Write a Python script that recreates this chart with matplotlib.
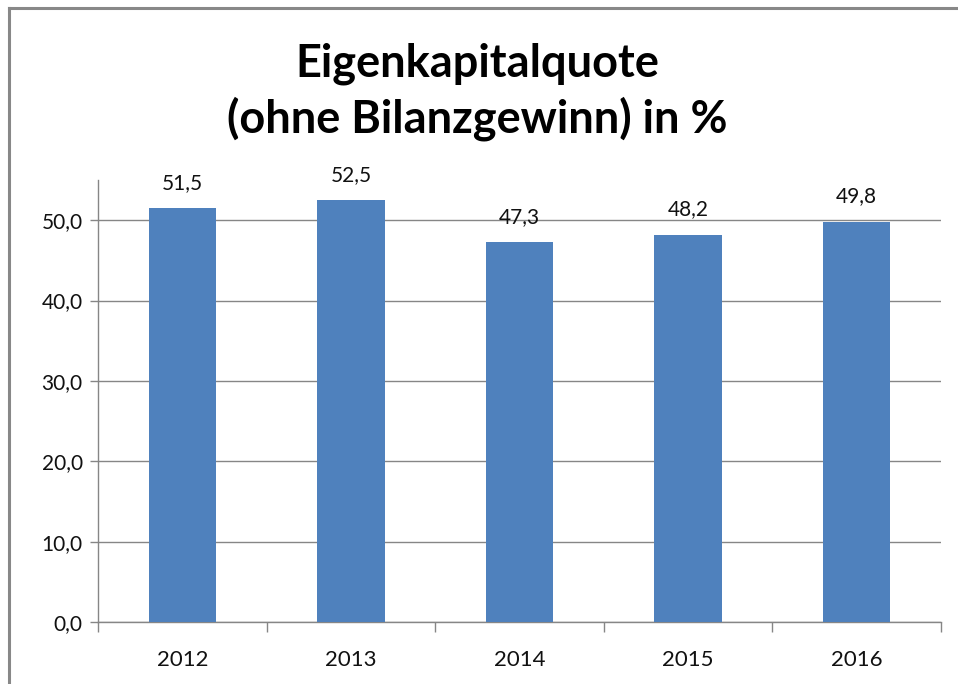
import matplotlib
matplotlib.use("Agg")
import matplotlib.pyplot as plt
from matplotlib.lines import Line2D
from matplotlib.ticker import FixedLocator

plt.rcParams['font.family'] = ['Lato', 'DejaVu Sans']

years = ["2012", "2013", "2014", "2015", "2016"]
values = [51.5, 52.5, 47.3, 48.2, 49.8]
title = "Eigenkapitalquote\n(ohne Bilanzgewinn) in %"

W, H = 958, 684
fig = plt.figure(figsize=(W / 100, H / 100), dpi=100)
ax = fig.add_axes([98 / W, 1 - 622 / H, (941 - 98) / W, (622 - 180) / H])

bar_color = "#4F81BD"
grid_color = "#868686"
x = list(range(len(years)))
ax.bar(x, values, width=0.4, color=bar_color, zorder=3)

ax.set_xlim(-0.5, len(years) - 0.5)
ax.set_ylim(0, 55)
yt = [0, 10, 20, 30, 40, 50]
ax.yaxis.set_major_locator(FixedLocator(yt))
ax.set_yticklabels([f"{v:.1f}".replace(".", ",") for v in yt])
ax.grid(axis="y", color=grid_color, linewidth=1.0, zorder=0)

# category ticks at boundaries
ax.xaxis.set_major_locator(FixedLocator([i - 0.5 for i in range(len(years) + 1)]))
ax.xaxis.set_major_formatter(plt.NullFormatter())
ax.xaxis.set_minor_locator(FixedLocator(x))
ax.set_xticklabels(years, minor=True)
ax.tick_params(axis="x", which="major", length=7, color=grid_color, width=1)
ax.tick_params(axis="x", which="minor", length=0, pad=20, labelsize=16, labelcolor="#111111")
ax.tick_params(axis="y", length=6, color=grid_color, width=1, labelsize=15, labelcolor="#111111", pad=5)

for s in ["top", "right"]:
    ax.spines[s].set_visible(False)
for s in ["left", "bottom"]:
    ax.spines[s].set_color(grid_color)
    ax.spines[s].set_linewidth(1.0)

for xi, v in zip(x, values):
    ax.annotate(f"{v:.1f}".replace(".", ","), (xi, v), xytext=(0, 11),
                textcoords="offset points", ha="center", va="bottom",
                fontsize=15, color="#111111")

fig.text(477 / W, 1 - 92 / H, title, ha="center", va="center",
         fontsize=32.5, fontweight="bold", linespacing=1.3, color="black")

# outer frame (partially visible)
fig.add_artist(Line2D([9 / W, 9 / W], [0, 1 - 8 / H], color="#888888", linewidth=2.2, transform=fig.transFigure))
fig.add_artist(Line2D([9 / W, 1], [1 - 8 / H, 1 - 8 / H], color="#888888", linewidth=2.2, transform=fig.transFigure))

fig.savefig("out.png", dpi=100, facecolor="white")
